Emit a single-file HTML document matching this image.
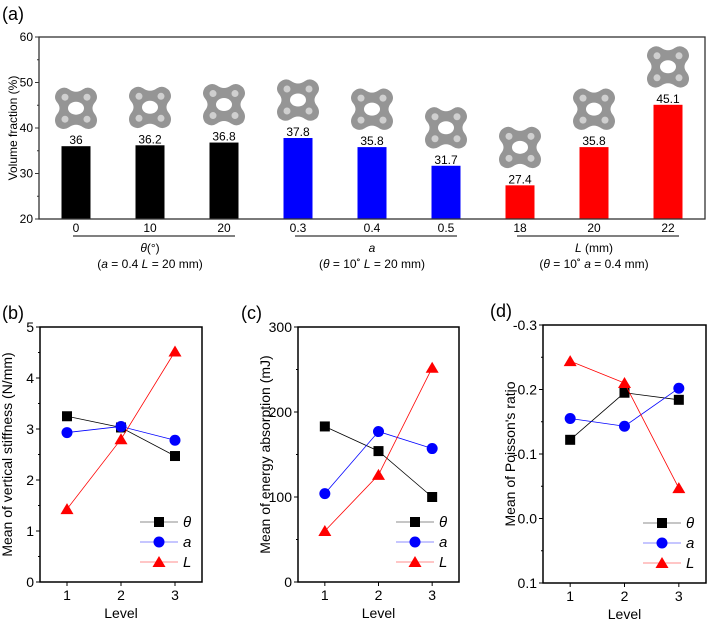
<!DOCTYPE html>
<html><head><meta charset="utf-8"><style>
body{margin:0;background:#fff;}
svg{display:block;font-family:"Liberation Sans",Arial,sans-serif;}
</style></head><body>
<svg id="fig" width="708" height="624" viewBox="0 0 708 624">
<defs>
<symbol id="cell" viewBox="0 0 46 46">
<path d="M4,6 Q10,0 16,4 Q23,9 30,4 Q36,0 42,6 Q46,12 42,17 Q37,23 42,29 Q46,35 42,41 Q36,46 30,42 Q23,37 16,42 Q10,46 4,41 Q0,35 4,29 Q9,23 4,17 Q0,12 4,6 Z" fill="#959595"/>
<ellipse cx="23" cy="23" rx="8" ry="6.5" fill="#fff"/>
<circle cx="12" cy="12" r="3.5" fill="#cfcfcf"/><circle cx="34" cy="12" r="3.5" fill="#cfcfcf"/>
<circle cx="12" cy="34" r="3.5" fill="#cfcfcf"/><circle cx="34" cy="34" r="3.5" fill="#cfcfcf"/>
</symbol>
</defs>
<g id="panelA"></g><g id="panelB"></g><g id="panelC"></g><g id="panelD"></g>
</svg>
<script>
const barCategories=["0","10","20","0.3","0.4","0.5","18","20","22"];
const barValues=[36,36.2,36.8,37.8,35.8,31.7,27.4,35.8,45.1];
const barLabels=["36","36.2","36.8","37.8","35.8","31.7","27.4","35.8","45.1"];
const barColors=["#000","#000","#000","#0000ff","#0000ff","#0000ff","#ff0000","#ff0000","#ff0000"];
const aTicks=[20,30,40,50,60];
const levels=[1,2,3];
const stiffTheta=[3.25,3.03,2.47];
const stiffA=[2.93,3.05,2.78];
const stiffL=[1.43,2.80,4.52];
const energyTheta=[183,154,100];
const energyA=[104,177,157];
const energyL=[60,126,252];
const poisTheta=[-0.122,-0.195,-0.184];
const poisA=[-0.155,-0.143,-0.202];
const poisL=[-0.244,-0.210,-0.047];
const bTicks=[0,1,2,3,4,5];
const cTicks=[0,100,200,300];
const dTicks=[-0.3,-0.2,-0.1,0.0,0.1];
const dTickLabels=["-0.3","-0.2","-0.1","0.0","0.1"];

const NS="http://www.w3.org/2000/svg";
function mk(p,t,a,txt){const e=document.createElementNS(NS,t);for(const k in a)e.setAttribute(k,a[k]);if(txt!==undefined)e.textContent=txt;p.appendChild(e);return e;}

// Panel A
(function(){
const g=document.getElementById('panelA');
const L=39,R=705,T=37,B=219;
const y=v=>B-(v-20)/(60-20)*(B-T);
const x=i=>76+i*74;
let t=mk(g,'text',{x:2,y:20,'font-size':18},'(a)');

barValues.forEach((v,i)=>{
 let r=mk(g,'rect',{x:x(i)-14.5,y:y(v),width:29,height:B-y(v),fill:barColors[i]});
 
 let l=mk(g,'text',{x:x(i),y:y(v)-2,'font-size':12,'text-anchor':'middle'},barLabels[i]);
 
 let u=mk(g,'use',{href:'#cell',x:x(i)-23,y:y(v)-61,width:46,height:46});
 
 let tl=mk(g,'text',{x:x(i),y:232,'font-size':12,'text-anchor':'middle'},barCategories[i]);
 
});
let f=mk(g,'rect',{x:L,y:T,width:R-L,height:B-T,fill:'none',stroke:'#333','stroke-width':1.3});

aTicks.forEach(v=>{mk(g,'line',{x1:L-4,x2:L,y1:y(v),y2:y(v),stroke:'#333'});
 let tt=mk(g,'text',{x:L-6,y:y(v)+4,'font-size':12,'text-anchor':'end'},v);
 });
[25,35,45,55].forEach(v=>mk(g,'line',{x1:L-2,x2:L,y1:y(v),y2:y(v),stroke:'#333'}));
let yl=mk(g,'text',{transform:'translate(17,128) rotate(-90)','font-size':12,'text-anchor':'middle'},'Volume fraction (%)');

const groups=[[0,'<tspan font-style="italic">θ</tspan>(°)','(<tspan font-style="italic">a</tspan> = 0.4 <tspan font-style="italic">L</tspan> = 20 mm)'],
 [3,'<tspan font-style="italic">a</tspan>','(<tspan font-style="italic">θ</tspan> = 10˚ <tspan font-style="italic">L</tspan> = 20 mm)'],
 [6,'<tspan font-style="italic">L</tspan> (mm)','(<tspan font-style="italic">θ</tspan> = 10˚ <tspan font-style="italic">a</tspan> = 0.4 mm)']];
groups.forEach(([s,n,c])=>{
 mk(g,'line',{x1:x(s)-3,x2:x(s+2)+11,y1:236,y2:236,stroke:'#000'});
 let a=mk(g,'text',{x:x(s+1),y:252,'font-size':12,'text-anchor':'middle'});a.innerHTML=n;
 
 let b=mk(g,'text',{x:x(s+1),y:268,'font-size':12,'text-anchor':'middle'});b.innerHTML=c;
 
});
})();

function linePanel(id,label,lx,L,R,T,B,ymin,ymax,ticks,tickLabels,minor,title,series,legendX){
 const g=document.getElementById(id);
 const y=v=>B-(v-ymin)/(ymax-ymin)*(B-T);
 const x=l=>L+(l-0.5)/3*(R-L);
 let t=mk(g,'text',{x:lx,y:T-8,'font-size':18},label);
 
 let f=mk(g,'rect',{x:L,y:T,width:R-L,height:B-T,fill:'none',stroke:'#000','stroke-width':1.5});
 
 ticks.forEach((v,i)=>{mk(g,'line',{x1:L-4,x2:L,y1:y(v),y2:y(v),stroke:'#000'});
  let tt=mk(g,'text',{x:L-6,y:y(v)+5,'font-size':14,'text-anchor':'end'},tickLabels[i]);
  });
 minor.forEach(v=>mk(g,'line',{x1:L-2,x2:L,y1:y(v),y2:y(v),stroke:'#000'}));
 levels.forEach(l=>{mk(g,'line',{x1:x(l),x2:x(l),y1:B,y2:B+4,stroke:'#000'});
  let tt=mk(g,'text',{x:x(l),y:B+18,'font-size':14,'text-anchor':'middle'},l);
  });
 let xt=mk(g,'text',{x:(L+R)/2,y:B+36,'font-size':14,'text-anchor':'middle'},'Level');
 
 let yt=mk(g,'text',{transform:`translate(${L-28},${(T+B)/2}) rotate(-90)`,'font-size':14,'text-anchor':'middle'},title);
 
 const mark=(cx,cy,s,c)=>{
  if(s==='sq') return mk(g,'rect',{x:cx-5,y:cy-5,width:10,height:10,fill:c});
  if(s==='ci') return mk(g,'circle',{cx:cx,cy:cy,r:5.5,fill:c});
  return mk(g,'polygon',{points:`${cx},${cy-6} ${cx-6.5},${cy+5} ${cx+6.5},${cy+5}`,fill:c});
 };
 series.forEach(([vals,c,s,name],k)=>{
  let pl=mk(g,'polyline',{points:vals.map((v,i)=>x(levels[i])+','+y(v)).join(' '),fill:'none',stroke:c,'stroke-width':0.8});
  
  vals.forEach((v,i)=>{let m=mark(x(levels[i]),y(v),s,c);
   });
  const ly=B-60+k*20;
  mk(g,'line',{x1:legendX,x2:legendX+38,y1:ly,y2:ly,stroke:c,'stroke-width':0.8,'stroke-opacity':0.6});
  let lm=mark(legendX+19,ly,s,c);
  
  let lt=mk(g,'text',{x:legendX+43,y:ly+5,'font-size':15,'font-style':'italic',fill:'#000'},name==='theta'?'θ':name);
  
 });
}
linePanel('panelB','(b)',2,40,202,327,582,0,5,bTicks,bTicks.map(String),[0.5,1.5,2.5,3.5,4.5],'Mean of vertical stiffness (N/mm)',
 [[stiffTheta,'#000','sq','theta'],[stiffA,'#0000ff','ci','a'],[stiffL,'#ff0000','tr','L']],140);
linePanel('panelC','(c)',241,298,459,327,582,0,300,cTicks,cTicks.map(String),[50,150,250],'Mean of energy absorption (mJ)',
 [[energyTheta,'#000','sq','theta'],[energyA,'#0000ff','ci','a'],[energyL,'#ff0000','tr','L']],396);
linePanel('panelD','(d)',490,543,706,325,583,0.1,-0.3,dTicks,dTickLabels,[-0.25,-0.15,-0.05,0.05],"Mean of Poisson's ratio",
 [[poisTheta,'#000','sq','theta'],[poisA,'#0000ff','ci','a'],[poisL,'#ff0000','tr','L']],643);
</script>
</body></html>
